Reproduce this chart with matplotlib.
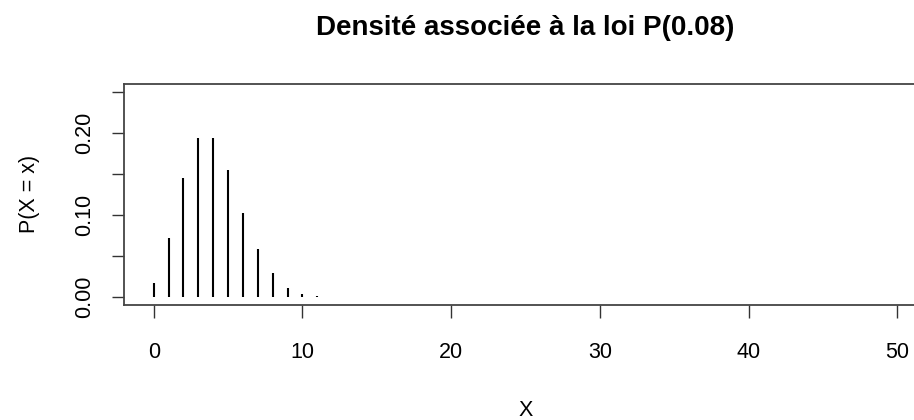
import numpy as np
import matplotlib
matplotlib.use("Agg")
import matplotlib.pyplot as plt

# -----------------------------
# Data
# -----------------------------
x_values = list(range(0, 51))
prob_values = [0.0174, 0.0720, 0.1448, 0.1938, 0.1938, 0.1553,
               0.1028, 0.0583, 0.0288, 0.0106, 0.0035, 0.0010] + [0.0] * 39
x_ticks = [0, 10, 20, 30, 40, 50]
y_ticks = [0.00, 0.05, 0.10, 0.15, 0.20, 0.25]
y_tick_labels = ["0.00", "", "0.10", "", "0.20", ""]

title = "Densité associée à la loi P(0.08)"
xlabel = "X"
ylabel = "P(X = x)"

# -----------------------------
# Plot
# -----------------------------
plt.rcParams['font.family'] = ['Liberation Sans', 'DejaVu Sans']

fig = plt.figure(figsize=(9.14, 4.2), dpi=100)
W, H = 914, 420
left, right, top, bottom = 124, 927, 84, 305
ax = fig.add_axes([left / W, 1 - bottom / H, (right - left) / W, (bottom - top) / H])

ax.vlines(x_values, 0, prob_values, colors='black', linewidth=1.5)

ax.set_xlim(-2, 52)
ax.set_ylim(-0.01, 0.26)
ax.set_xticks(x_ticks)
ax.set_yticks(y_ticks)
ax.set_yticklabels(y_tick_labels, rotation=90, va='center')
ax.tick_params(axis='both', direction='out', length=9, width=1, color='#333333',
               labelsize=15.5)
ax.tick_params(axis='x', pad=18)
ax.tick_params(axis='y', pad=12)

for s in ax.spines.values():
    s.set_color('#444444')
    s.set_linewidth(1.3)

fig.text((left + right) / 2 / W, 1 - 411 / H, xlabel, ha='center', va='center',
         fontsize=15.5)
fig.text(30 / W, 1 - 194 / H, ylabel, ha='center', va='center', rotation=90,
         fontsize=15.5)
fig.text((left + right) / 2 / W, 1 - 35 / H, title, ha='center', va='baseline',
         fontsize=20, fontweight='bold')

fig.savefig("out.png", dpi=100)
